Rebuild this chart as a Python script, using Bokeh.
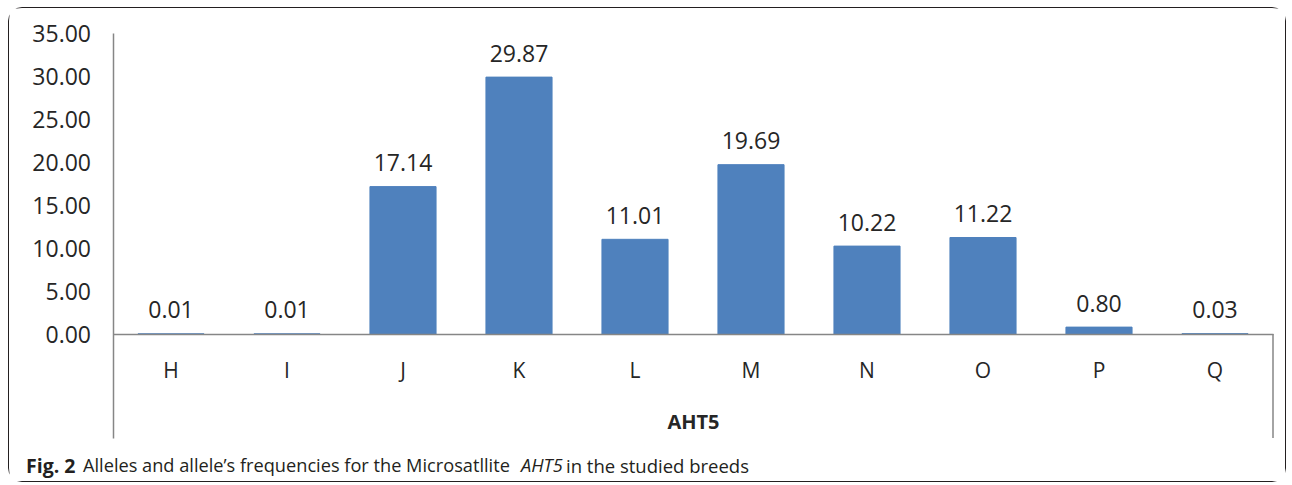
from bokeh.plotting import figure
from bokeh.models import (Range1d, FixedTicker, ColumnDataSource,
                          LabelSet, Label, NumeralTickFormatter)
from bokeh.embed import file_html
from bokeh.resources import INLINE
from bokeh.core.properties import value

# ---- data ----
alleles = ["H", "I", "J", "K", "L", "M", "N", "O", "P", "Q"]
freqs = [0.01, 0.01, 17.14, 29.87, 11.01, 19.69, 10.22, 11.22, 0.80, 0.03]
y_ticks = [0, 5, 10, 15, 20, 25, 30, 35]
marker = "AHT5"
caption_bold = "Fig. 2"
caption_a = "Alleles and allele\u2019s frequencies for the Microsatllite"
caption_i = "AHT5"
caption_b = "in the studied breeds"

FONT = "Open Sans"
CAPFONT = "Open Sans"
TXT = "#262626"
GRAY = "#868686"
BLUE = "#4F81BD"

# ---- layout (pixels) ----
W, H = 1278, 475            # canvas size
OX, OY = 9.5, 8.5           # canvas origin on page (margin + border)
AX_X0 = 113.0               # page x of the category axis start
PX_CAT = 116.0              # pixels per category
ZERO_Y = 334.0              # page y of value 0
PX_UNIT = 8.6               # pixels per value unit
AXIS_BOTTOM_Y = 438.0       # page y where the separator lines end
CAP_Y = 465.0               # page y of the caption centre

def dx(px):
    return (px - AX_X0) / PX_CAT

def dy(py):
    return (ZERO_Y - py) / PX_UNIT

n = len(alleles)
xpos = [i + 0.5 for i in range(n)]
src = ColumnDataSource(dict(x=xpos, freq=freqs,
                            label=[f"{v:.2f}" for v in freqs]))

p = figure(width=W, height=H,
           x_range=Range1d(dx(OX), dx(OX + W)),
           y_range=Range1d(dy(OY + H), dy(OY)),
           output_backend="svg", toolbar_location=None,
           min_border=0)
p.styles = {"border": "1.5px solid #231f20", "border-radius": "14px",
            "margin-left": "8px", "margin-top": "7px"}
p.outline_line_color = None
p.xgrid.visible = False
p.ygrid.visible = False
p.background_fill_color = "white"
p.border_fill_color = "white"

y_line_bottom = dy(AXIS_BOTTOM_Y)

# right separator line below the category axis
p.segment(x0=[n], y0=[0], x1=[n], y1=[y_line_bottom],
          line_color=GRAY, line_width=1.5)

# bars
p.vbar(x="x", top="freq", width=0.57, source=src,
       fill_color=BLUE, line_color=BLUE)

# value labels
p.add_layout(LabelSet(x="x", y="freq", text="label", source=src,
                      y_offset=24, text_align="center", text_baseline="middle",
                      text_font=value(FONT), text_font_size="23px",
                      text_color=TXT))

# y axis
ya = p.yaxis[0]
ya.fixed_location = 0
ya.bounds = (y_line_bottom, max(y_ticks))
ya.ticker = FixedTicker(ticks=y_ticks)
ya.formatter = NumeralTickFormatter(format="0.00")
ya.major_tick_line_color = None
ya.minor_tick_line_color = None
ya.major_tick_out = 0
ya.major_tick_in = 0
ya.axis_line_color = GRAY
ya.axis_line_width = 1.5
ya.major_label_standoff = 22
ya.major_label_text_font = FONT
ya.major_label_text_font_size = "23px"
ya.major_label_text_color = TXT

# x axis at zero
xa = p.xaxis[0]
xa.fixed_location = 0
xa.bounds = (0, n)
xa.ticker = FixedTicker(ticks=xpos)
xa.major_label_overrides = {x: a for x, a in zip(xpos, alleles)}
xa.major_tick_line_color = None
xa.minor_tick_line_color = None
xa.major_tick_out = 0
xa.major_tick_in = 0
xa.axis_line_color = GRAY
xa.axis_line_width = 1.5
xa.major_label_standoff = 22
xa.major_label_text_font = FONT
xa.major_label_text_font_size = "21px"
xa.major_label_text_color = TXT
xa.axis_label = marker
xa.axis_label_standoff = 20
xa.axis_label_text_font = FONT
xa.axis_label_text_font_size = "20px"
xa.axis_label_text_font_style = "bold"
xa.axis_label_text_color = TXT

# caption
for txt, px, style, size in [(caption_bold, 26, "bold", "19.5px"),
                             (caption_a, 83, "normal", "18.2px"),
                             (caption_i, 521, "italic", "18.2px"),
                             (caption_b, 566, "normal", "18.5px")]:
    p.add_layout(Label(x=dx(px), y=dy(CAP_Y), text=txt, text_font=CAPFONT,
                       text_font_size=size, text_font_style=style,
                       text_color="#231f20", text_baseline="middle",
                       text_align="left"))

open("out.html", "w").write(file_html(p, INLINE))
